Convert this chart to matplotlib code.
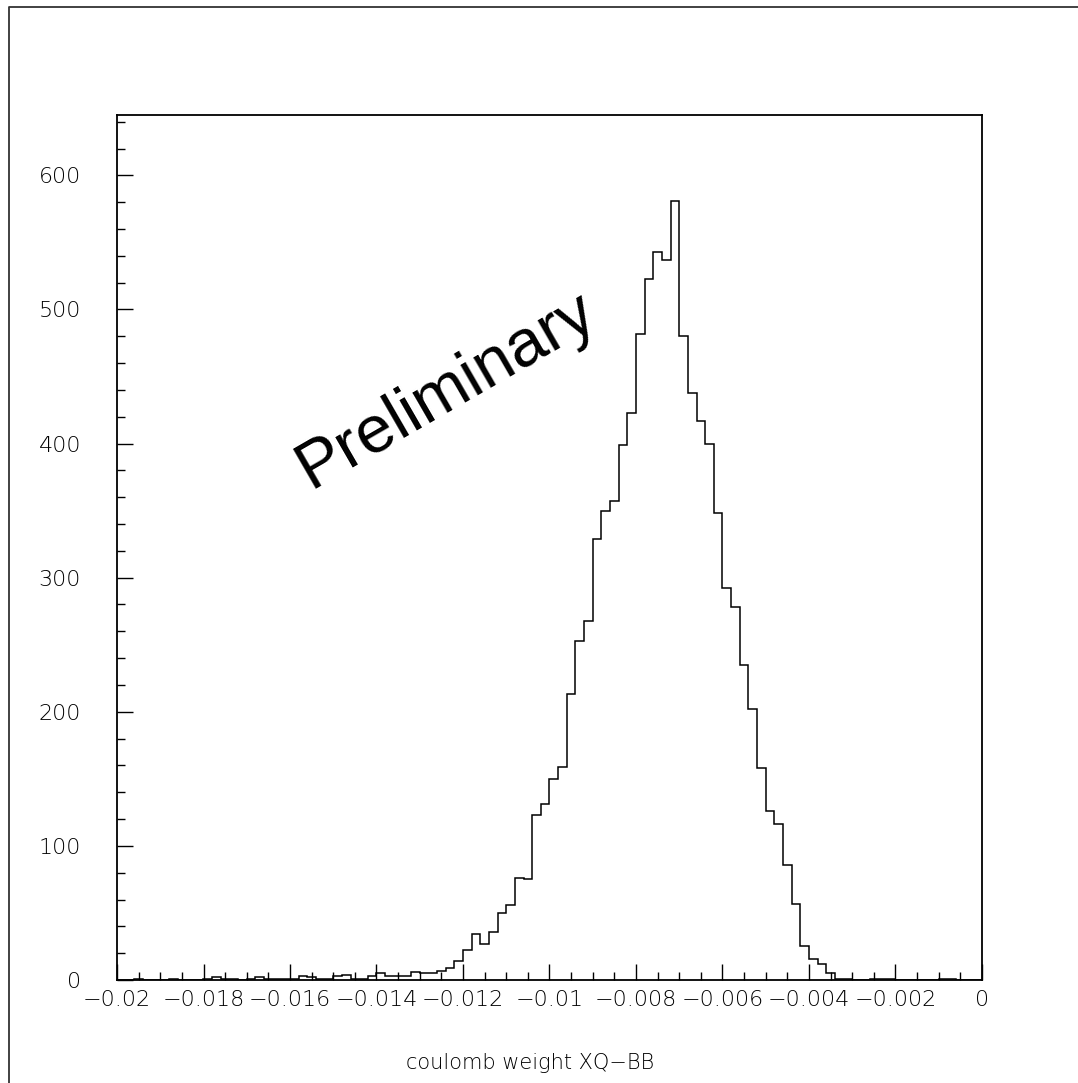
import numpy as np
import matplotlib
matplotlib.use("Agg")
import matplotlib.pyplot as plt
from matplotlib.lines import Line2D

# histogram range and contents (100 bins from -0.02 to 0)
x_min = -0.02
x_max = 0.0
counts = [
    0, 0, 1, 0, 0, 0, 1, 0, 0, 0, 1, 2, 1, 1, 0, 1, 2, 1, 1, 1,
    1, 3, 2, 1, 1, 3, 4, 1, 1, 3, 5, 3, 3, 3, 6, 5, 5, 7, 9, 14,
    22, 34, 27, 36, 50, 56, 76, 75, 123, 131, 150, 159, 213, 253, 268, 329, 350, 357,
    399, 423, 482, 523, 543, 537, 581, 480, 438, 417, 400,
    348, 292, 278, 235, 202, 158, 126, 116, 86, 57, 25, 16, 12, 5,
    1, 1, 0, 0, 1, 1, 1, 0, 0, 0, 0, 0, 1, 1, 0, 0, 0,
]
y_max = 645

x_ticks = [-0.02, -0.018, -0.016, -0.014, -0.012, -0.01, -0.008, -0.006, -0.004, -0.002, 0.0]
x_tick_labels = ["\u22120.02", "\u22120.018", "\u22120.016", "\u22120.014", "\u22120.012",
                 "\u22120.01", "\u22120.008", "\u22120.006", "\u22120.004", "\u22120.002", "0"]
y_ticks = [0, 100, 200, 300, 400, 500, 600]
y_tick_labels = ["0", "100", "200", "300", "400", "500", "600"]

x_title = "coulomb weight XQ\u2212BB"
stamp = "Preliminary"

fig = plt.figure(figsize=(10.78, 10.83), dpi=100)
ax = fig.add_axes([117 / 1078, 1 - 980 / 1083, 865 / 1078, 865 / 1083])

# draw the histogram outline
edges = np.linspace(x_min, x_max, len(counts) + 1)
ax.stairs(counts, edges, color="black", linewidth=1.1)

ax.set_xlim(x_min, x_max)
ax.set_ylim(0, y_max)

for s in ax.spines.values():
    s.set_linewidth(1.3)

# ticks inside, only on left and bottom (PAW look), thin labels
ax.set_xticks(x_ticks)
ax.set_xticklabels(x_tick_labels, fontsize=16, fontweight="light", family="DejaVu Sans")
ax.set_xticks(np.arange(x_min, x_max + 1e-9, 0.0005), minor=True)
ax.set_yticks(y_ticks)
ax.set_yticklabels(y_tick_labels, fontsize=16, fontweight="light", family="DejaVu Sans")
ax.set_yticks(np.arange(0, y_max, 20), minor=True)
ax.tick_params(which="major", direction="in", length=11.5, width=1.0, top=False, right=False)
ax.tick_params(which="minor", direction="in", length=6, width=1.0, top=False, right=False)
ax.tick_params(axis="x", which="major", pad=7)
ax.tick_params(axis="y", which="major", pad=26)

ax.set_xlabel(x_title, fontsize=15, fontweight="light", family="DejaVu Sans")
ax.xaxis.set_label_coords(0.477, -0.0844)

# rotated stamp
fig.text(446 / 1078, 1 - 391 / 1083, stamp, fontsize=48, family="Liberation Sans",
         rotation=30, ha="center", va="center")

# outer frame (left and top edges visible)
fig.add_artist(Line2D([9 / 1078, 9 / 1078, 1.01], [-0.01, 1 - 7 / 1083, 1 - 7 / 1083],
                      transform=fig.transFigure, color="#333333", linewidth=1.3))

plt.savefig("out.png", dpi=100)
